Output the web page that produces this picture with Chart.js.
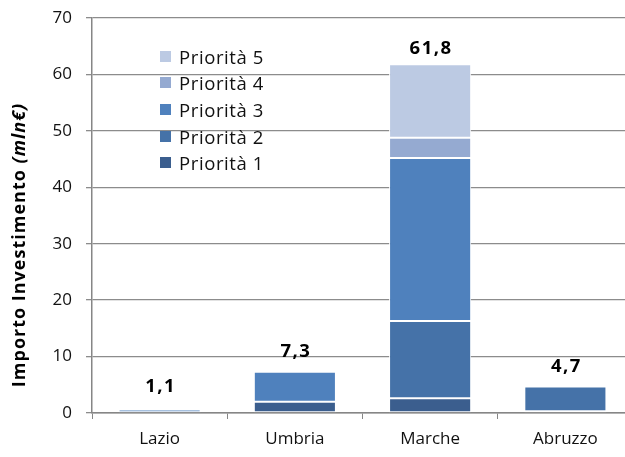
<!DOCTYPE html>
<html>
<head>
<meta charset="utf-8">
<script src="https://cdn.jsdelivr.net/npm/chart.js@4/dist/chart.umd.min.js"></script>
<style>
html,body{margin:0;padding:0;background:#fff;overflow:hidden;width:625px;height:457px;}
#wrap{position:absolute;left:0;top:0;width:660px;height:457px;}
#legend{position:absolute;left:160px;top:43px;font-family:"Open Sans",sans-serif;font-size:18.5px;letter-spacing:0.6px;color:#111;}
#legend .row{height:26.65px;display:flex;align-items:center;white-space:nowrap;}
#legend .box{width:11px;height:11px;margin-right:8px;}
</style>
</head>
<body>
<div id="wrap"><canvas id="c" width="660" height="457"></canvas></div>
<div id="legend"></div>
<script>
const categories = ['Lazio', 'Umbria', 'Marche', 'Abruzzo'];
const seriesNames = ['Priorità 1', 'Priorità 2', 'Priorità 3', 'Priorità 4', 'Priorità 5'];
const priorita1 = [null, 2.0, 2.6, 0.3];
const priorita2 = [null, null, 13.7, 4.4];
const priorita3 = [0.6, 5.3, 28.9, null];
const priorita4 = [null, null, 3.6, null];
const priorita5 = [null, null, 13.0, null];
const totals = [1.1, 7.3, 61.8, 4.7];
const totalLabels = ['1,1', '7,3', '61,8', '4,7'];
const yTicks = [0, 10, 20, 30, 40, 50, 60, 70];

const colors = ['#3b5e8e', '#4572a8', '#4f81bd', '#95aad1', '#bccae3'];
const seriesData = [priorita1, priorita2, priorita3, priorita4, priorita5];
const FONT = '"Open Sans", sans-serif';

const datasets = seriesData.map((d, i) => ({
  label: seriesNames[i],
  data: d,
  backgroundColor: colors[i],
  borderColor: '#ffffff',
  borderWidth: 1,
  borderSkipped: false,
  barPercentage: 0.607,
  categoryPercentage: 1.0
}));

const totalsPlugin = {
  id: 'totals',
  afterDatasetsDraw(chart) {
    const ctx = chart.ctx;
    const xs = chart.scales.x, ys = chart.scales.y;
    ctx.save();
    ctx.font = 'bold 18.5px ' + FONT;
    ctx.letterSpacing = '1.5px';
    ctx.fillStyle = '#000';
    ctx.textAlign = 'center';
    ctx.textBaseline = 'middle';
    totals.forEach((t, i) => {
      const y = Math.max(ys.getPixelForValue(t) - 20, chart.chartArea.top + 31);
      ctx.fillText(totalLabels[i], xs.getPixelForValue(i) + 1, y);
    });
    ctx.restore();
  }
};

const yTitlePlugin = {
  id: 'ytitle',
  afterDraw(chart) {
    const ctx = chart.ctx;
    ctx.save();
    ctx.translate(20, 245);
    ctx.rotate(-Math.PI / 2);
    const a = 'Importo Investimento ';
    const b = '(mln€)';
    ctx.letterSpacing = '1px';
    ctx.font = 'bold 18px ' + FONT;
    const wa = ctx.measureText(a).width;
    ctx.font = 'italic bold 18px ' + FONT;
    const wb = ctx.measureText(b).width;
    const start = -(wa + wb) / 2;
    ctx.fillStyle = '#000';
    ctx.textBaseline = 'middle';
    ctx.textAlign = 'left';
    ctx.font = 'bold 18px ' + FONT;
    ctx.fillText(a, start, 0);
    ctx.font = 'italic bold 18px ' + FONT;
    ctx.fillText(b, start + wa, 0);
    ctx.restore();
  }
};

new Chart(document.getElementById('c'), {
  type: 'bar',
  data: { labels: categories, datasets },
  options: {
    responsive: false,
    animation: false,
    layout: { padding: { top: 18, right: 27, left: 0, bottom: 0 } },
    plugins: { legend: { display: false }, tooltip: { enabled: false } },
    scales: {
      x: {
        stacked: true,
        offset: true,
        grid: { display: true, drawOnChartArea: false, drawTicks: true, tickLength: 6, color: '#868686', offset: true },
        border: { display: true, color: '#868686', width: 1.5 },
        ticks: { font: { family: FONT, size: 17 }, color: '#111', padding: 10 },
        afterFit(s) { s.height = 44; s.paddingLeft = 0; s.paddingRight = 0; }
      },
      y: {
        stacked: true,
        min: 0, max: 70,
        afterBuildTicks(s) { s.ticks = yTicks.map(v => ({ value: v })); },
        grid: { color: '#8c8c8c', lineWidth: 1.3, tickLength: 6, drawTicks: true },
        border: { display: true, color: '#868686', width: 1.5 },
        ticks: { font: { family: FONT, size: 17 }, color: '#111', padding: 14 },
        afterFit(s) { s.width = 92; s.paddingTop = 0; s.paddingBottom = 0; }
      }
    }
  },
  plugins: [totalsPlugin, yTitlePlugin]
});

const leg = document.getElementById('legend');
for (let i = seriesNames.length - 1; i >= 0; i--) {
  const row = document.createElement('div');
  row.className = 'row';
  const box = document.createElement('div');
  box.className = 'box';
  box.style.background = colors[i];
  const txt = document.createElement('span');
  txt.textContent = seriesNames[i];
  row.appendChild(box);
  row.appendChild(txt);
  leg.appendChild(row);
}
</script>
</body>
</html>
